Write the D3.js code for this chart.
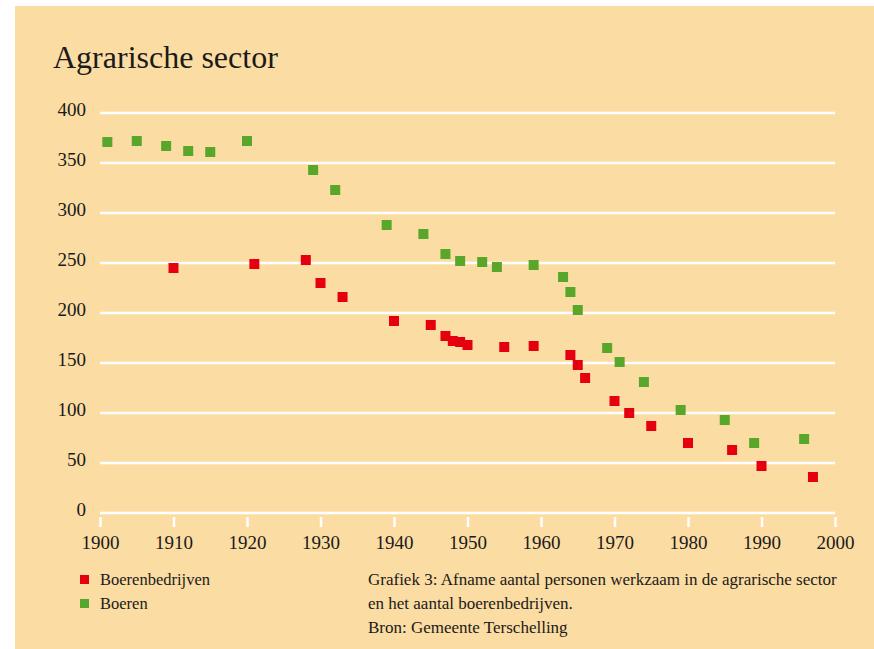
<!DOCTYPE html>
<html>
<head>
<meta charset="utf-8">
<script src="https://d3js.org/d3.v7.min.js"></script>
<style>
  body { margin: 0; background: #fff; }
  svg text { font-family: "Liberation Serif", "DejaVu Serif", serif; fill: #1a1a1a; }
</style>
</head>
<body>
<div id="chart"></div>
<script>
// Boeren (personen werkzaam in de agrarische sector)
const boerenJaar   = [1901, 1905, 1909, 1912, 1915, 1920, 1929, 1932, 1939, 1944, 1947, 1949, 1952, 1954, 1959, 1963, 1964, 1965, 1969, 1970.7, 1974, 1979, 1985, 1989, 1995.8];
const boerenAantal = [371, 372, 367, 362, 361, 372, 343, 323, 288, 279, 259, 252, 251, 246, 248, 236, 221, 203, 165, 151, 131, 103, 93, 70, 74];

// Boerenbedrijven
const bedrijvenJaar   = [1910, 1921, 1928, 1930, 1933, 1940, 1945, 1947, 1948, 1949, 1950, 1955, 1959, 1964, 1965, 1966, 1970, 1972, 1975, 1980, 1986, 1990, 1997];
const bedrijvenAantal = [245, 249, 253, 230, 216, 192, 188, 177, 172, 171, 168, 166, 167, 158, 148, 135, 112, 100, 87, 70, 63, 47, 36];

const yTicks = [0, 50, 100, 150, 200, 250, 300, 350, 400];
const xTicks = [1900, 1910, 1920, 1930, 1940, 1950, 1960, 1970, 1980, 1990, 2000];

const legendItems = [
  { naam: "Boerenbedrijven", kleur: "#e6000f" },
  { naam: "Boeren", kleur: "#58a62a" }
];
const bijschrift = [
  "Grafiek 3: Afname aantal personen werkzaam in de agrarische sector",
  "en het aantal boerenbedrijven.",
  "Bron: Gemeente Terschelling"
];

const width = 874, height = 649;
const svg = d3.select("#chart").append("svg")
  .attr("width", width).attr("height", height);

// achtergrond
svg.append("rect")
  .attr("x", 15).attr("y", 6)
  .attr("width", width - 15).attr("height", height - 6)
  .attr("fill", "#fbdca2");

svg.append("text")
  .attr("x", 53).attr("y", 68)
  .attr("font-size", 32)
  .text("Agrarische sector");

const x = d3.scaleLinear().domain([1900, 2000]).range([100, 835]);
const y = d3.scaleLinear().domain([0, 400]).range([513, 113]);

// rasterlijnen
svg.selectAll(".grid").data(yTicks).enter().append("line")
  .attr("x1", x(1900)).attr("x2", x(2000))
  .attr("y1", d => y(d)).attr("y2", d => y(d))
  .attr("stroke", "#fff").attr("stroke-width", 2.5);

svg.selectAll(".ylab").data(yTicks).enter().append("text")
  .attr("x", 86).attr("y", d => y(d) + 3)
  .attr("text-anchor", "end")
  .attr("font-size", 19)
  .text(d => d);

// x-as
const xAxis = svg.append("g")
  .attr("transform", `translate(0,${y(0) + 4})`)
  .call(d3.axisBottom(x).tickValues(xTicks).tickFormat(d3.format("d")).tickSize(10).tickPadding(9));
xAxis.select(".domain").remove();
xAxis.selectAll(".tick line").attr("stroke", "#fff").attr("stroke-width", 2.5);
xAxis.selectAll(".tick text")
  .attr("font-family", "Liberation Serif, serif")
  .attr("font-size", 19).attr("fill", "#1a1a1a");

const sq = 10;
const boeren = boerenJaar.map((j, i) => ({ jaar: j, aantal: boerenAantal[i] }));
const bedrijven = bedrijvenJaar.map((j, i) => ({ jaar: j, aantal: bedrijvenAantal[i] }));

svg.selectAll(".boer").data(boeren).enter().append("rect")
  .attr("x", d => x(d.jaar) - sq / 2).attr("y", d => y(d.aantal) - sq / 2)
  .attr("width", sq).attr("height", sq)
  .attr("fill", legendItems[1].kleur);

svg.selectAll(".bedrijf").data(bedrijven).enter().append("rect")
  .attr("x", d => x(d.jaar) - sq / 2).attr("y", d => y(d.aantal) - sq / 2)
  .attr("width", sq).attr("height", sq)
  .attr("fill", legendItems[0].kleur);

// legenda
const leg = svg.selectAll(".leg").data(legendItems).enter().append("g")
  .attr("transform", (d, i) => `translate(80,${579 + i * 24})`);
leg.append("rect").attr("x", 0).attr("y", -4).attr("width", 9).attr("height", 9)
  .attr("fill", d => d.kleur);
leg.append("text").attr("x", 20).attr("y", 6).attr("font-size", 16.5).text(d => d.naam);

svg.selectAll(".cap").data(bijschrift).enter().append("text")
  .attr("x", 368).attr("y", (d, i) => 585 + i * 24)
  .attr("font-size", 17)
  .text(d => d);
</script>
</body>
</html>
